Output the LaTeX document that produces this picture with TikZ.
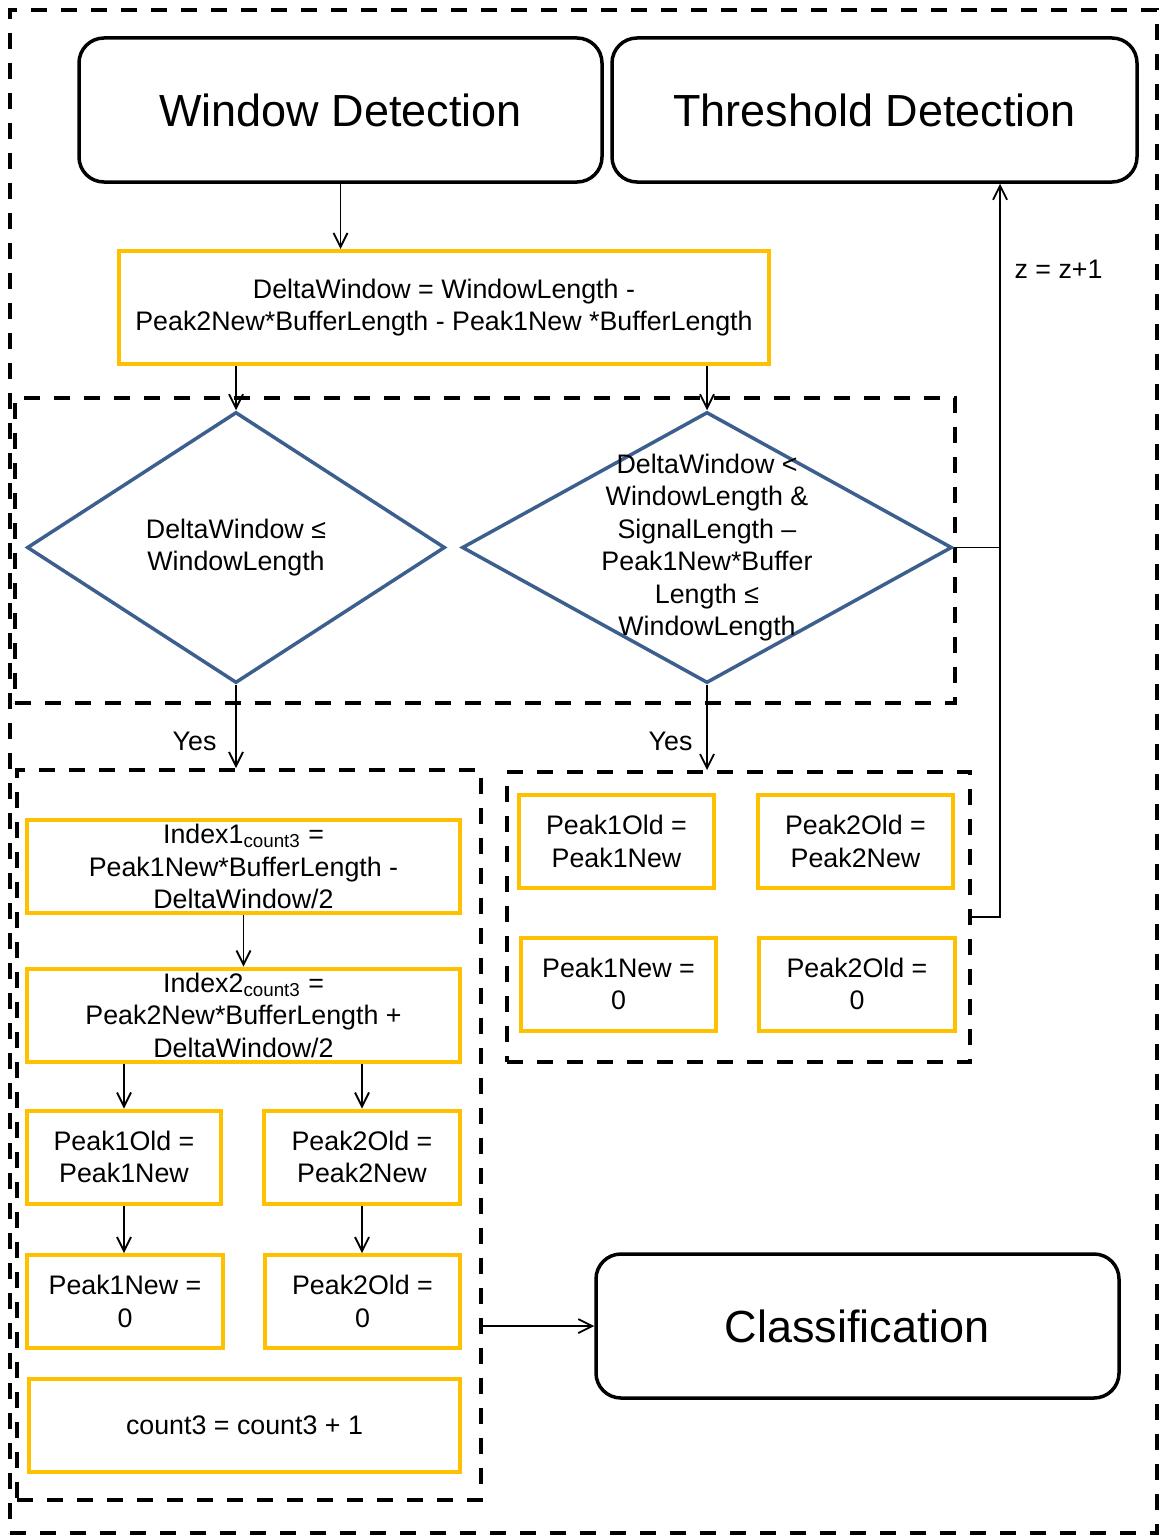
\documentclass[tikz,border=0pt]{standalone}
\usepackage{fontspec}
\setmainfont{Liberation Sans}
\usetikzlibrary{arrows.meta, shapes.geometric, positioning}
\definecolor{boxyellow}{HTML}{FFC000}
\definecolor{decblue}{HTML}{3D5F8E}
\newcommand{\stagefont}{\fontsize{22.5}{27}\selectfont}
\newcommand{\flowfont}{\fontsize{13.4}{16.25}\selectfont}

\begin{document}
\begin{tikzpicture}[x=0.5pt, y=-0.5pt, font=\flowfont,
    >={Straight Barb[length=7pt,width=7pt]},
    stage/.style={draw, line width=1.75pt, rounded corners=12.5pt,
                  font=\stagefont, minimum width=261.5pt, minimum height=72pt},
    calcbox/.style={draw=boxyellow, line width=2pt, align=center,
                    inner sep=0pt, minimum height=46.5pt},
    decision/.style={diamond, draw=decblue, line width=1.75pt, align=center,
                     inner sep=0pt, minimum height=135.5pt},
    group/.style={draw, line width=2pt, dash pattern=on 8pt off 7pt, inner sep=0pt},
    flow/.style={->, line width=0.9pt}]
  \useasboundingbox (0,0) rectangle (1160,1536);

  % Dashed groups
  \node[group, minimum width=573.5pt, minimum height=761.5pt] (outer) at (583.5,771.5) {};
  \node[group, minimum width=470pt, minimum height=152.5pt] (condgrp) at (485,550.5) {};
  \node[group, minimum width=232pt, minimum height=365pt] (wingrp) at (249,1135) {};
  \node[group, minimum width=231.5pt, minimum height=145pt] (resetgrp) at (738.5,917) {};

  % Stage boxes
  \node[stage] (window) at (340.5,110) {Window Detection};
  \node[stage, minimum width=262.5pt] (thresh) at (874.5,110) {Threshold Detection};
  \node[stage] (classif) at (857.5,1326) {Classification};

  % Window size
  \node[calcbox, minimum width=325pt, minimum height=56.5pt] (delta) at (444,307.5)
    {DeltaWindow = WindowLength -\\Peak2New*BufferLength - Peak1New *BufferLength};

  % Decisions
  \node[decision, minimum width=209pt] (inside) at (236,547.5)
    {DeltaWindow ≤\\WindowLength};
  \node[decision, minimum width=245pt] (edge) at (707,547.5) {};
  \node[align=center] (edgetxt) at (edge)
    {DeltaWindow <\\WindowLength \&\\SignalLength –\\Peak1New*Buffer\\Length ≤\\WindowLength};

  % Inside branch
  \node[calcbox, minimum width=216.5pt] (idx1) at (243.5,866.5)
    {Index1\textsubscript{count3} =\\Peak1New*BufferLength -\\DeltaWindow/2};
  \node[calcbox, minimum width=216.5pt] (idx2) at (243.5,1015)
    {Index2\textsubscript{count3} =\\Peak2New*BufferLength +\\DeltaWindow/2};
  \node[calcbox, minimum width=97pt] (oldA) at (124,1157) {Peak1Old =\\Peak1New};
  \node[calcbox, minimum width=98pt] (oldB) at (362,1157) {Peak2Old =\\Peak2New};
  \node[calcbox, minimum width=98pt] (newA) at (125,1301.5) {Peak1New =\\0};
  \node[calcbox, minimum width=97.5pt] (newB) at (362.5,1301.5) {Peak2Old =\\0};
  \node[calcbox, minimum width=215.5pt] (count) at (244.5,1425) {count3 = count3 + 1};

  % Reset branch
  \node[calcbox, minimum width=97.5pt] (rOldA) at (616.5,841.5) {Peak1Old =\\Peak1New};
  \node[calcbox, minimum width=97.5pt] (rOldB) at (855.5,841.5) {Peak2Old =\\Peak2New};
  \node[calcbox, minimum width=97.5pt] (rNewA) at (618.5,984) {Peak1New =\\0};
  \node[calcbox, minimum width=98pt] (rNewB) at (857,984) {Peak2Old =\\0};

  % Connectors
  \draw[flow] (window.south) -- (window.south |- delta.north);
  \draw[flow] (inside.north |- delta.south) -- (inside.north);
  \draw[flow] (edge.north |- delta.south) -- (edge.north);
  \draw[flow] (inside.south) -- (inside.south |- wingrp.north)
    node[pos=0.68, left=6pt] (yesA) {Yes};
  \draw[flow] (edge.south) -- (edge.south |- resetgrp.north)
    node[pos=0.66, left=3.5pt] (yesB) {Yes};
  \draw[flow] (idx1.south) -- (idx2.north);
  \draw[flow] (oldA.north |- idx2.south) -- (oldA.north);
  \draw[flow] (oldB.north |- idx2.south) -- (oldB.north);
  \draw[flow] (oldA.south) -- (oldA.south |- newA.north);
  \draw[flow] (oldB.south) -- (oldB.south |- newB.north);
  \draw[flow] (wingrp.east |- classif.west) -- (classif.west);

  % Loop back to threshold detection
  \coordinate (zbus) at (1000,917);
  \draw[line width=0.9pt] (edge.east) -- (edge.east -| zbus);
  \draw[flow] (resetgrp.east) -- (zbus) -- (zbus |- thresh.south)
    node[pos=0.883, right=3.5pt] (zinc) {z = z+1};
\end{tikzpicture}
\end{document}
